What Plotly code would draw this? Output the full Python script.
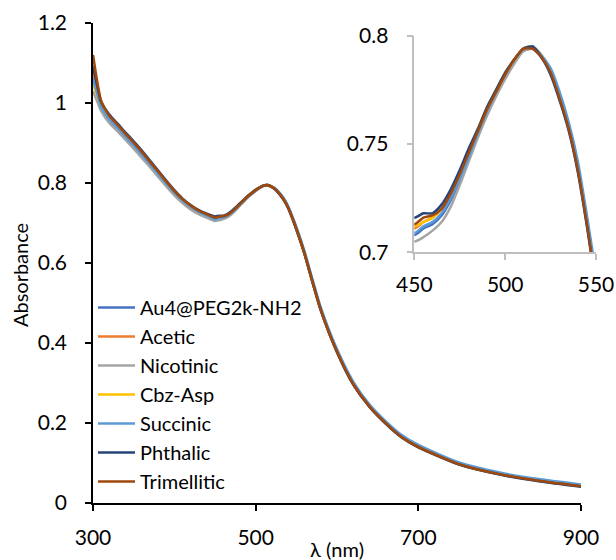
import plotly.graph_objects as go

# wavelength grid (nm)
wavelength = [300, 305, 310, 320, 330, 340, 350, 360, 370, 380, 390, 400, 410, 420, 430, 440,
              450, 455, 460, 465, 470, 475, 480, 485, 490, 495, 500, 505, 510, 515, 520, 525,
              530, 535, 540, 545, 550, 560, 570, 580, 600, 620, 640, 660, 680, 700, 750, 800,
              850, 900]

au4 = [1.075, 1.030, 0.992, 0.958, 0.937, 0.914, 0.892, 0.869, 0.845, 0.821, 0.797, 0.774, 0.755, 0.739, 0.727, 0.718,
       0.708, 0.711, 0.713, 0.717, 0.724, 0.733, 0.744, 0.754, 0.764, 0.773, 0.781, 0.788, 0.793, 0.794, 0.790, 0.783,
       0.772, 0.758, 0.739, 0.714, 0.687, 0.626, 0.554, 0.485, 0.380, 0.299, 0.243, 0.201, 0.166, 0.142, 0.099, 0.074,
       0.057, 0.044]
acetic = [1.080, 1.035, 0.998, 0.965, 0.943, 0.920, 0.898, 0.875, 0.851, 0.827, 0.802, 0.778, 0.759, 0.743, 0.730, 0.721,
          0.711, 0.714, 0.716, 0.720, 0.727, 0.736, 0.746, 0.756, 0.766, 0.774, 0.782, 0.789, 0.794, 0.795, 0.791, 0.784,
          0.772, 0.758, 0.739, 0.714, 0.686, 0.625, 0.553, 0.484, 0.379, 0.298, 0.242, 0.200, 0.165, 0.141, 0.098, 0.073,
          0.056, 0.043]
nicotinic = [1.030, 1.005, 0.980, 0.950, 0.930, 0.908, 0.886, 0.863, 0.840, 0.816, 0.792, 0.769, 0.750, 0.734, 0.722, 0.713,
             0.705, 0.707, 0.710, 0.714, 0.721, 0.731, 0.742, 0.753, 0.763, 0.772, 0.780, 0.787, 0.793, 0.794, 0.790, 0.783,
             0.771, 0.757, 0.738, 0.713, 0.685, 0.624, 0.552, 0.483, 0.378, 0.297, 0.241, 0.199, 0.164, 0.140, 0.097, 0.072,
             0.055, 0.042]
cbz_asp = [1.048, 1.020, 0.992, 0.962, 0.941, 0.918, 0.896, 0.873, 0.849, 0.825, 0.800, 0.777, 0.757, 0.741, 0.729, 0.720,
           0.712, 0.714, 0.716, 0.720, 0.727, 0.737, 0.747, 0.757, 0.767, 0.775, 0.783, 0.789, 0.794, 0.795, 0.791, 0.784,
           0.772, 0.758, 0.739, 0.714, 0.686, 0.625, 0.553, 0.484, 0.379, 0.298, 0.242, 0.200, 0.165, 0.141, 0.098, 0.073,
           0.056, 0.043]
succinic = [1.060, 1.025, 0.990, 0.960, 0.939, 0.916, 0.894, 0.871, 0.847, 0.823, 0.799, 0.776, 0.756, 0.740, 0.728, 0.719,
            0.709, 0.712, 0.714, 0.718, 0.725, 0.734, 0.744, 0.755, 0.765, 0.774, 0.782, 0.789, 0.794, 0.795, 0.791, 0.785,
            0.774, 0.760, 0.742, 0.717, 0.690, 0.629, 0.558, 0.489, 0.384, 0.303, 0.246, 0.204, 0.169, 0.145, 0.101, 0.076,
            0.059, 0.046]
phthalic = [1.092, 1.045, 1.003, 0.971, 0.949, 0.926, 0.904, 0.881, 0.856, 0.831, 0.806, 0.782, 0.761, 0.745, 0.732, 0.723,
            0.716, 0.718, 0.718, 0.722, 0.729, 0.738, 0.748, 0.757, 0.767, 0.775, 0.783, 0.789, 0.794, 0.795, 0.790, 0.782,
            0.770, 0.756, 0.737, 0.712, 0.684, 0.623, 0.551, 0.482, 0.377, 0.296, 0.240, 0.198, 0.163, 0.139, 0.096, 0.071,
            0.054, 0.041]
trimellitic = [1.120, 1.055, 1.005, 0.968, 0.946, 0.923, 0.901, 0.878, 0.853, 0.829, 0.804, 0.780, 0.760, 0.744, 0.731, 0.722,
               0.713, 0.716, 0.717, 0.720, 0.727, 0.736, 0.746, 0.756, 0.766, 0.774, 0.782, 0.789, 0.794, 0.794, 0.790, 0.783,
               0.771, 0.757, 0.738, 0.713, 0.685, 0.624, 0.552, 0.483, 0.378, 0.297, 0.241, 0.199, 0.164, 0.140, 0.097, 0.072,
               0.055, 0.042]

names = ["Au4@PEG2k-NH2", "Acetic", "Nicotinic", "Cbz-Asp", "Succinic", "Phthalic", "Trimellitic"]
colors = ["#4472C4", "#ED7D31", "#A5A5A5", "#FFC000", "#5B9BD5", "#264478", "#9E480E"]
series = [au4, acetic, nicotinic, cbz_asp, succinic, phthalic, trimellitic]

x_ticks = [300, 500, 700, 900]
y_ticks = [0, 0.2, 0.4, 0.6, 0.8, 1, 1.2]
inset_x_ticks = [450, 500, 550]
inset_y_ticks = [0.7, 0.75, 0.8]
inset_y_text = ["0.7", "0.75", "0.8"]

FONT = "Lato"

fig = go.Figure()

# main spectra
for name, col, vals in zip(names, colors, series):
    fig.add_trace(go.Scatter(
        x=wavelength, y=vals, name=name, mode="lines",
        line=dict(color=col, width=2.6, shape="spline", smoothing=0.6),
        xaxis="x", yaxis="y",
    ))

# zoomed inset around the plasmon band
for name, col, vals in zip(names, colors, series):
    fig.add_trace(go.Scatter(
        x=wavelength, y=vals, name=name, mode="lines", showlegend=False,
        line=dict(color=col, width=2.5, shape="spline", smoothing=0.6),
        xaxis="x2", yaxis="y2",
    ))

axis_common = dict(showline=True, showgrid=False, zeroline=False, automargin=False,
                   ticks="outside", ticklen=6, tickwidth=1.5, linewidth=1.5)

fig.update_layout(
    width=616, height=560,
    margin=dict(l=93, r=20, t=23, b=57),
    paper_bgcolor="white", plot_bgcolor="white",
    font=dict(family=FONT, size=21, color="black"),
    xaxis=dict(domain=[0, 0.9702], range=[300, 900], tickvals=x_ticks,
               linecolor="black", tickcolor="black", ticklabelstandoff=9, anchor="y",
               **axis_common),
    yaxis=dict(domain=[0, 1], range=[0, 1.2], tickvals=y_ticks,
               linecolor="black", tickcolor="black", ticklabelstandoff=14, anchor="x",
               **axis_common),
    xaxis2=dict(domain=[0.6388, 1], range=[450, 550], tickvals=inset_x_ticks,
                linecolor="#BFBFBF", tickcolor="#BFBFBF", ticklabelstandoff=7, anchor="y2",
                **axis_common),
    yaxis2=dict(domain=[0.5223, 0.9735], range=[0.7, 0.8], tickvals=inset_y_ticks, ticktext=inset_y_text,
                linecolor="#BFBFBF", tickcolor="#BFBFBF", ticklabelstandoff=14, anchor="x2",
                **axis_common),
    legend=dict(x=0.0, y=0.448, xanchor="left", yanchor="top", bgcolor="rgba(0,0,0,0)",
                font=dict(family=FONT, size=20), itemwidth=37),
    showlegend=True,
)

# axis titles as annotations so they sit where the original has them
fig.add_annotation(text="\u03bb (nm)", xref="paper", yref="paper", x=0.485, y=-0.096,
                   xanchor="center", yanchor="middle", showarrow=False,
                   font=dict(family=FONT, size=20))
fig.add_annotation(text="Absorbance", xref="paper", yref="paper", x=-0.145, y=0.475,
                   xanchor="center", yanchor="middle", textangle=-90, showarrow=False,
                   font=dict(family=FONT, size=20))

# drop the default page margin so the full-size figure fits the window
fig.write_html("out.html", config={"displayModeBar": False},
               post_script="document.body.style.margin='0px';")
